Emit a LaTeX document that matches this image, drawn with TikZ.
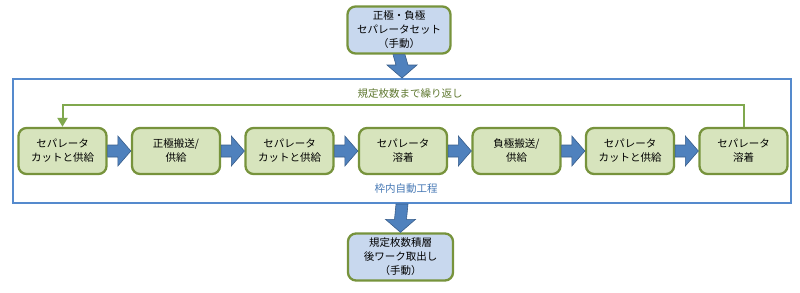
\documentclass[tikz,border=0pt]{standalone}
\usepackage{fontspec}
\setmainfont{Noto Sans CJK JP}
\usepackage{tikz}
\usetikzlibrary{calc,arrows.meta}
\definecolor{boxgreen}{RGB}{215,228,189}
\definecolor{edgegreen}{RGB}{119,147,60}
\definecolor{loopgreen}{RGB}{128,168,78}
\definecolor{textolive}{RGB}{95,120,48}
\definecolor{handblue}{RGB}{200,216,238}
\definecolor{arrowblue}{RGB}{79,129,189}
\definecolor{arrowedge}{RGB}{56,93,138}
\definecolor{framblue}{RGB}{85,138,205}
\definecolor{labelblue}{RGB}{70,120,180}
\tikzset{
  stepbox/.style={draw=edgegreen,line width=2.3pt,rounded corners=8pt,fill=boxgreen,
    minimum width=88pt,minimum height=46pt,align=center,font=\fontsize{10.5}{14}\selectfont},
  handbox/.style={stepbox,fill=handblue,minimum width=103pt,minimum height=47pt},
  blockarrow/.style={fill=arrowblue,draw=arrowedge,line width=0.6pt,line join=miter}
}
% block arrow: right (#1 -> #2), down (#1 -> #2)
\newcommand{\harrow}[2]{%
  \draw[blockarrow] ($(#1)+(0,-6)$) -- ($(#2)+(-13,-6)$) -- ($(#2)+(-13,-15)$) -- (#2)
    -- ($(#2)+(-13,15)$) -- ($(#2)+(-13,6)$) -- ($(#1)+(0,6)$) -- cycle;}
\newcommand{\varrow}[2]{%
  \draw[blockarrow] ($(#1)+(-6,0)$) -- ($(#2)+(-6,-13)$) -- ($(#2)+(-15,-13)$) -- (#2)
    -- ($(#2)+(15,-13)$) -- ($(#2)+(6,-13)$) -- ($(#1)+(6,0)$) -- cycle;}
\begin{document}
\begin{tikzpicture}[x=1pt,y=-1pt]
  \useasboundingbox (0,0) rectangle (800,292);
  % manual steps above and below, automatic cycle inside the frame
  \node[draw=framblue,line width=2pt,minimum width=778pt,minimum height=124pt] (frame) at (402,141) {};
  \node[handbox] (start) at (399,30) {正極・負極\\セパレータセット\\（手動）};
  \node[handbox,minimum width=105pt] (finish) at (400.5,257) {規定枚数積層\\後ワーク取出し\\（手動）};
  \foreach \t [count=\i] in {{セパレータ\\カットと供給},{正極搬送/\\供給},{セパレータ\\カットと供給},
      {セパレータ\\溶着},{負極搬送/\\供給},{セパレータ\\カットと供給},{セパレータ\\溶着}}{
    \node[stepbox] (p\i) at ({62.5+113.5*(\i-1)},151) {\t};
  }
  \foreach \i [evaluate=\i as \j using int(\i+1)] in {1,...,6}{
    \harrow{p\i.east}{p\j.west}
  }
  \varrow{start.south}{frame.north}
  \varrow{frame.south}{finish.north}
  \draw[loopgreen,line width=2pt,-{Triangle[width=10pt,length=9pt]}] (p7.north) -- ++(0,-22) coordinate (turn) -| (p1.north);
  \node[text=textolive,font=\fontsize{10.5}{12}\selectfont] (looptext) at (410,94) {規定枚数まで繰り返し};
  \node[text=labelblue,font=\fontsize{10.5}{12}\selectfont] (autotext) at (406,189) {枠内自動工程};
\end{tikzpicture}
\end{document}
